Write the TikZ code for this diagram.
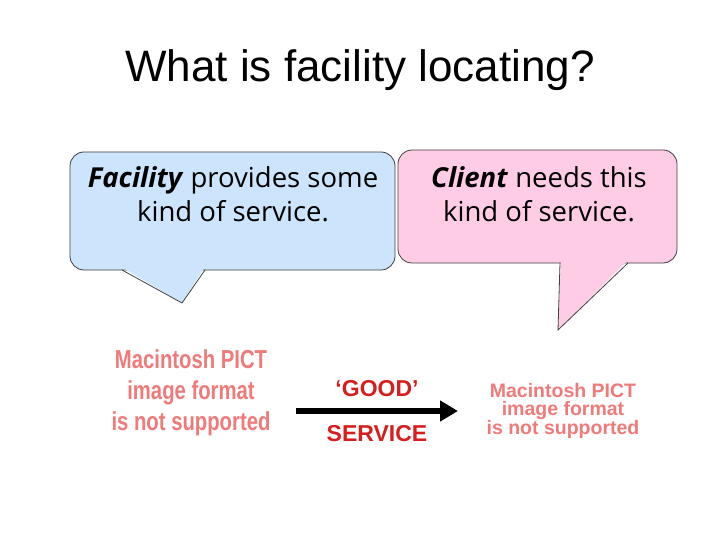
\documentclass[tikz,border=0pt]{standalone}
\usepackage{fontspec}
\setmainfont{Liberation Sans}
\newfontfamily\bubblefont{Open Sans}
\newfontfamily\pictfont[FakeStretch=0.78]{Liberation Sans}
\usetikzlibrary{arrows.meta}
\definecolor{facilityblue}{RGB}{204,228,252}
\definecolor{clientpink}{RGB}{255,204,230}
\definecolor{pictred}{RGB}{238,122,122}
\definecolor{servicered}{RGB}{214,30,30}
\tikzstyle{bubble}=[draw=black!75, line width=0.8pt, rounded corners=14pt]
\tikzstyle{tail}=[draw=black!75, line width=0.8pt]
\tikzstyle{bubble text}=[font=\bubblefont\fontsize{27.5}{34}\selectfont, align=center]
\tikzstyle{pict}=[text=pictred, align=center]
\tikzstyle{service}=[text=servicered, font=\bfseries\fontsize{23}{27}\selectfont]

\begin{document}
\begin{tikzpicture}[x=1pt, y=-1pt]
      \useasboundingbox (0,0) rectangle (720,540);
      \node (title) at (360,70) {\fontsize{44}{50}\selectfont What is facility locating?};

      % facility bubble
      \draw[bubble, fill=facilityblue] (70,152) rectangle (395,270);
      \fill[facilityblue] (123,268) -- (182,303) -- (204,268) -- cycle;
      \draw[tail] (122,270) -- (182,303) -- (205,270);
      \node[bubble text] (facility) at (233,194)
        {\textbf{\textit{Facility}} provides some\\kind of service.};

      % client bubble
      \draw[bubble, fill=clientpink] (398,150) rectangle (677,263);
      \fill[clientpink] (561,261) -- (558,330) -- (627,261) -- cycle;
      \draw[tail] (560,263) -- (558,330) -- (628,263);
      \node[bubble text] (client) at (539,194)
        {\textbf{\textit{Client}} needs this\\kind of service.};

      % placeholders
      \node[pict, font=\pictfont\bfseries\fontsize{26}{31}\selectfont] (left pict) at (191,393)
        {Macintosh PICT\\image format\\is not supported};
      \node[pict, font=\bfseries\fontsize{19.5}{18}\selectfont] (right pict) at (563,411)
        {Macintosh PICT\\image format\\is not supported};

      \coordinate (service start) at (296,411);
      \coordinate (service end) at (458,411);
      \draw[-{Triangle[length=18pt,width=20pt]}, line width=6.5pt] (service start)
        to node[service, above=8pt] {‘GOOD’}
        node[service, below=8pt] {SERVICE} (service end);
\end{tikzpicture}
\end{document}
